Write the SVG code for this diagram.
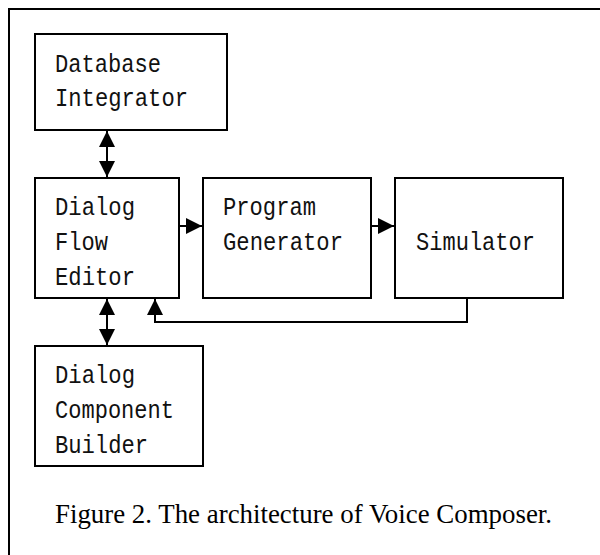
<svg xmlns="http://www.w3.org/2000/svg" width="600" height="555" viewBox="0 0 600 555">
<defs>
<style>
.box{fill:#fff;stroke:#000;stroke-width:2}
.lbl{font-family:"Liberation Mono","DejaVu Sans Mono",monospace;font-size:25px;fill:#111}
.cap{font-family:"Liberation Serif","Times New Roman",serif;font-size:27px;fill:#000}
.ln{fill:none;stroke:#000;stroke-width:2}
</style>
<marker id="ah" markerUnits="userSpaceOnUse" markerWidth="16" markerHeight="16" viewBox="0 0 16 16" refX="16" refY="8" orient="auto-start-reverse">
<path d="M0,0 L16,8 L0,16 Z" fill="#000"/>
</marker>
</defs>
<rect width="600" height="555" fill="#fff"/>
<path d="M9,555 V9 H600" fill="none" stroke="#000" stroke-width="2"/>
<g id="connectors">
<line class="ln" x1="107" y1="131" x2="107" y2="177" marker-start="url(#ah)" marker-end="url(#ah)"/>
<line class="ln" x1="107" y1="299" x2="107" y2="345" marker-start="url(#ah)" marker-end="url(#ah)"/>
<line class="ln" x1="179" y1="226" x2="202" y2="226" marker-end="url(#ah)"/>
<line class="ln" x1="371" y1="226" x2="394" y2="226" marker-end="url(#ah)"/>
<path class="ln" d="M467,298 V322 H155 V299" marker-end="url(#ah)"/>
</g>
<g id="database-integrator">
<rect class="box" x="35" y="34" width="192" height="96"/>
<text class="lbl" x="55" y="72" textLength="106" lengthAdjust="spacingAndGlyphs">Database</text>
<text class="lbl" x="55" y="106" textLength="133" lengthAdjust="spacingAndGlyphs">Integrator</text>
</g>
<g id="dialog-flow-editor">
<rect class="box" x="35" y="178" width="144" height="120"/>
<text class="lbl" x="55" y="215" textLength="80" lengthAdjust="spacingAndGlyphs">Dialog</text>
<text class="lbl" x="55" y="250" textLength="53" lengthAdjust="spacingAndGlyphs">Flow</text>
<text class="lbl" x="55" y="285" textLength="80" lengthAdjust="spacingAndGlyphs">Editor</text>
</g>
<g id="program-generator">
<rect class="box" x="203" y="178" width="168" height="120"/>
<text class="lbl" x="223" y="215" textLength="93" lengthAdjust="spacingAndGlyphs">Program</text>
<text class="lbl" x="223" y="250" textLength="120" lengthAdjust="spacingAndGlyphs">Generator</text>
</g>
<g id="simulator">
<rect class="box" x="395" y="178" width="168" height="120"/>
<text class="lbl" x="416" y="250" textLength="119" lengthAdjust="spacingAndGlyphs">Simulator</text>
</g>
<g id="dialog-component-builder">
<rect class="box" x="35" y="346" width="168" height="120"/>
<text class="lbl" x="55" y="383" textLength="80" lengthAdjust="spacingAndGlyphs">Dialog</text>
<text class="lbl" x="55" y="418" textLength="119" lengthAdjust="spacingAndGlyphs">Component</text>
<text class="lbl" x="55" y="453" textLength="93" lengthAdjust="spacingAndGlyphs">Builder</text>
</g>
<text class="cap" x="55" y="523" textLength="497" lengthAdjust="spacingAndGlyphs">Figure 2. The architecture of Voice Composer.</text>
</svg>
